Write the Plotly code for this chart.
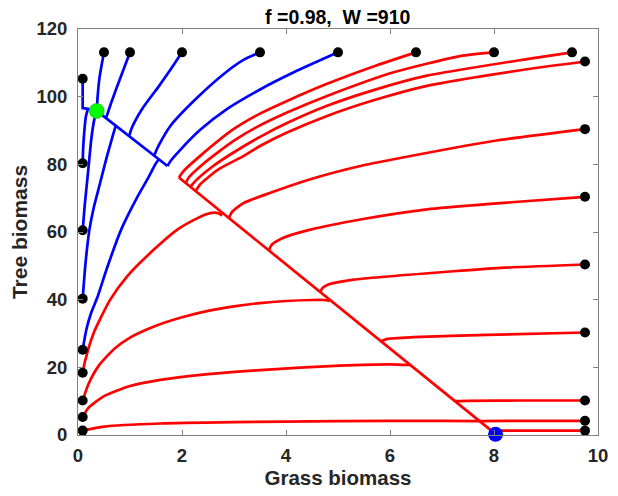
import plotly.graph_objects as go

# ---------------- data (grass, tree) ----------------
# blue trajectories (end at the green equilibrium)
blue_left_105 = [(0.09, 105.3), (0.09, 96.6), (0.19, 96.4), (0.36, 95.8)]
blue_left_80 = [(0.09, 80.3), (0.10, 85.0), (0.125, 90.4), (0.15, 94.0), (0.19, 96.4)]
blue_left_60 = [(0.09, 60.5), (0.13, 68.0), (0.18, 75.6), (0.22, 82.0), (0.26, 88.0), (0.31, 93.0), (0.36, 95.8)]
blue_left_40 = [(0.09, 40.3), (0.145, 50.9), (0.22, 60.7), (0.30, 67.0), (0.41, 73.6), (0.55, 82.0),
                (0.66, 88.0), (0.71, 90.6), (0.73, 91.4)]
blue_left_25 = [(0.09, 25.2), (0.16, 31.1), (0.25, 36.0), (0.38, 41.0), (0.55, 49.0), (0.83, 60.7),
                (1.15, 70.6), (1.35, 76.0), (1.48, 79.8), (1.55, 81.4)]
blue_top_05 = [(0.50, 113.1), (0.45, 109.0), (0.41, 105.2), (0.38, 100.5), (0.36, 95.8)]
blue_top_10 = [(1.00, 113.1), (0.83, 106.2), (0.64, 98.3), (0.56, 94.6), (0.54, 93.7)]
blue_top_20 = [(2.00, 113.1), (1.78, 108.0), (1.56, 103.2), (1.23, 96.3), (1.03, 90.6), (0.99, 88.6)]
blue_top_35 = [(3.50, 113.1), (3.20, 111.0), (2.87, 107.5), (2.30, 99.8), (1.78, 91.4), (1.55, 85.5), (1.47, 82.8)]
blue_top_50 = [(5.00, 113.1), (4.15, 107.2), (3.51, 102.2), (2.87, 96.4), (2.35, 90.2), (1.95, 84.0),
               (1.78, 81.0), (1.72, 79.5)]
blue_separatrix = [(1.72, 79.5), (0.36, 95.8)]

# red trajectories (end at the blue equilibrium)
red_separatrix = [(1.94, 76.1), (8.02, 0.4)]
red_top_65 = [(6.50, 113.1), (5.75, 109.3), (4.79, 103.8), (4.00, 98.6), (3.50, 95.0), (2.99, 90.4),
              (2.35, 82.5), (2.03, 78.0), (1.94, 76.1)]
red_top_80 = [(8.00, 113.1), (7.35, 112.0), (6.07, 107.2), (4.79, 100.2), (4.02, 95.3), (3.40, 90.7),
              (3.00, 87.0), (2.67, 83.3), (2.40, 80.0), (2.13, 76.1), (2.07, 74.4)]
red_top_95 = [(9.50, 113.1), (8.63, 111.1), (6.71, 106.2), (5.70, 102.0), (4.79, 97.3), (4.02, 92.2),
              (3.51, 88.2), (2.99, 83.5), (2.60, 79.5), (2.26, 75.1), (2.16, 73.3)]
red_right_110 = [(9.75, 110.4), (8.63, 108.1), (6.71, 103.2), (5.70, 99.0), (4.79, 94.3), (4.02, 89.4),
                 (3.51, 85.5), (3.19, 82.5), (2.70, 78.5), (2.35, 74.1), (2.26, 72.1)]
red_right_90 = [(9.75, 90.4), (7.99, 86.9), (6.07, 81.5), (5.43, 79.5), (4.47, 75.6), (3.70, 71.6),
                (3.19, 68.6), (2.96, 65.9), (2.90, 64.0)]
red_right_70 = [(9.75, 70.4), (7.99, 68.4), (6.71, 66.7), (5.43, 63.7), (4.47, 60.7), (3.95, 58.3),
                (3.73, 56.3), (3.67, 54.6)]
red_right_50 = [(9.75, 50.4), (8.12, 49.4), (7.22, 48.4), (5.30, 45.9), (4.80, 44.4), (4.70, 43.4), (4.66, 42.3)]
red_right_30 = [(9.75, 30.3), (7.86, 29.6), (6.45, 28.9), (5.95, 28.4), (5.84, 27.8)]
red_right_10 = [(9.75, 10.2), (8.50, 10.2), (7.50, 10.1), (7.25, 10.0)]
red_right_4 = [(9.75, 4.2), (8.50, 4.2), (7.72, 4.1)]
red_right_1 = [(9.75, 1.3), (8.00, 1.3)]
red_left_18 = [(0.09, 18.4), (0.13, 21.5), (0.30, 30.1), (0.62, 40.0), (0.945, 46.9), (1.46, 54.8),
               (1.91, 60.7), (2.22, 63.5), (2.45, 65.2), (2.62, 65.7), (2.72, 65.4), (2.77, 64.8)]
red_left_10 = [(0.09, 10.2), (0.20, 15.0), (0.40, 20.5), (0.70, 25.5), (1.00, 28.8), (1.50, 32.3),
               (2.00, 34.8), (2.50, 36.7), (3.00, 38.0), (3.50, 39.0), (4.00, 39.6), (4.50, 39.9),
               (4.72, 39.9), (4.84, 39.6)]
red_left_5 = [(0.09, 5.3), (0.20, 8.0), (0.50, 11.5), (1.00, 14.5), (1.58, 16.3), (2.50, 18.0),
              (3.50, 19.2), (5.04, 20.5), (6.00, 20.9), (6.38, 20.7)]
red_left_1 = [(0.09, 1.3), (0.50, 2.5), (1.58, 3.4), (3.00, 3.8), (5.00, 4.1), (7.00, 4.2), (7.72, 4.1)]

green_eq = (0.36, 95.8)
blue_eq = (8.03, 0.2)

blue_trajs = [blue_left_105, blue_left_80, blue_left_60, blue_left_40, blue_left_25,
              blue_top_05, blue_top_10, blue_top_20, blue_top_35, blue_top_50]
red_trajs = [red_top_65, red_top_80, red_top_95, red_right_110, red_right_90, red_right_70,
             red_right_50, red_right_30, red_right_10, red_right_4, red_right_1,
             red_left_18, red_left_10, red_left_5, red_left_1]
sharp = {id(blue_left_105)}

x_ticks = [0, 2, 4, 6, 8, 10]
y_ticks = [0, 20, 40, 60, 80, 100, 120]

FONT = "Liberation Sans, Arial, Helvetica, sans-serif"
fig = go.Figure()


def add_line(pts, color):
    shape = "linear" if id(pts) in sharp or len(pts) <= 2 else "spline"
    fig.add_trace(go.Scatter(
        x=[p[0] for p in pts], y=[p[1] for p in pts], mode="lines",
        line=dict(color=color, width=2.7, shape=shape, smoothing=0.6),
        hoverinfo="skip", showlegend=False))


add_line(red_separatrix, "#ff0000")
for t in red_trajs:
    add_line(t, "#ff0000")
add_line(blue_separatrix, "#0000ff")
for t in blue_trajs:
    add_line(t, "#0000ff")

starts = [t[0] for t in blue_trajs + red_trajs]
fig.add_trace(go.Scatter(
    x=[p[0] for p in starts], y=[p[1] for p in starts], mode="markers",
    marker=dict(color="black", size=10), cliponaxis=False, hoverinfo="skip", showlegend=False))
fig.add_trace(go.Scatter(
    x=[green_eq[0]], y=[green_eq[1]], mode="markers",
    marker=dict(color="#00ff00", size=15, line=dict(color="#22aa22", width=0.6)),
    cliponaxis=False, hoverinfo="skip", showlegend=False))
fig.add_trace(go.Scatter(
    x=[blue_eq[0]], y=[blue_eq[1]], mode="markers",
    marker=dict(color="#0000ff", size=15), cliponaxis=False, hoverinfo="skip", showlegend=False))

axis_common = dict(
    showgrid=False, zeroline=False, showline=True, linecolor="#808080", linewidth=1,
    mirror="ticks", ticks="inside", ticklen=5, tickcolor="#808080",
    tickfont=dict(family=FONT, size=18.5, color="#262626", weight="bold"),
)
fig.update_layout(
    width=618, height=496,
    margin=dict(l=78, r=20, t=29, b=61, autoexpand=False),
    paper_bgcolor="white", plot_bgcolor="white",
    title=dict(text="f =0.98,\u00a0 W =910", x=0.5465, xanchor="center", y=1 - 17 / 496,
               yanchor="middle", yref="container",
               font=dict(family=FONT, size=19.5, color="black", weight="bold")),
    xaxis=dict(range=[0, 10], tickvals=x_ticks, ticklabelstandoff=4,
               title=dict(text="Grass biomass", standoff=4,
                          font=dict(family=FONT, size=20.5, color="#262626", weight="bold")),
               **axis_common),
    yaxis=dict(range=[0, 120], tickvals=y_ticks, ticklabelstandoff=6,
               title=dict(text="Tree biomass", standoff=3,
                          font=dict(family=FONT, size=21, color="#262626", weight="bold")),
               **axis_common),
)
fig.write_html("out.html", config={"displayModeBar": False})
